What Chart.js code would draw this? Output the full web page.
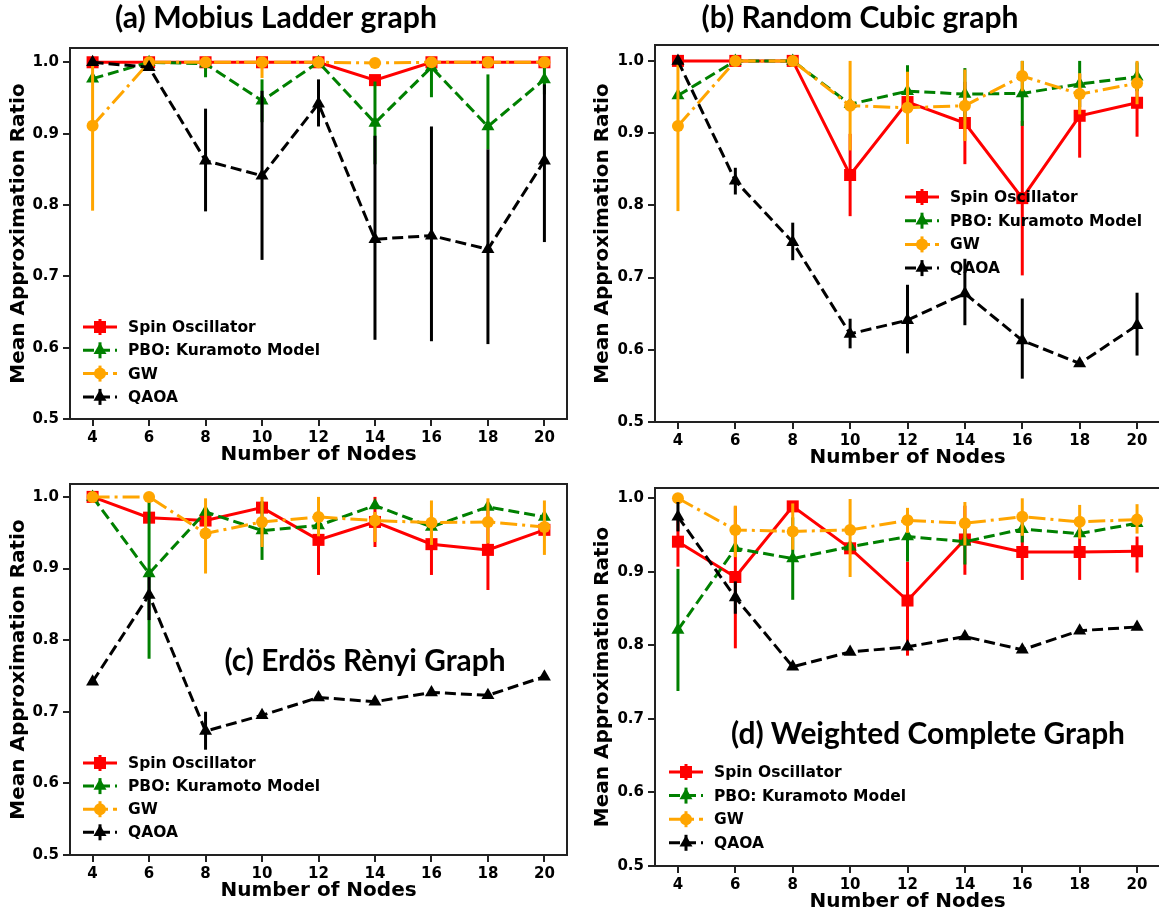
<!DOCTYPE html>
<html>
<head>
<meta charset="utf-8">
<script src="https://cdn.jsdelivr.net/npm/chart.js@4.4.1/dist/chart.umd.min.js"></script>
<style>
html,body{margin:0;padding:0;background:#fff;width:1159px;height:916px;overflow:hidden;position:relative}
canvas{position:absolute}
</style>
</head>
<body>
<script>
const nodes = [4, 6, 8, 10, 12, 14, 16, 18, 20];
const yTicks = [0.5, 0.6, 0.7, 0.8, 0.9, 1.0];
const seriesNames = ["Spin Oscillator", "PBO: Kuramoto Model", "GW", "QAOA"];

// (a) Mobius ladder
const mlSpin = [1, 1, 1, 1, 1, 0.975, 1, 1, 1];
const mlPbo  = [0.977, 1, 0.998, 0.946, 1, 0.915, 0.993, 0.91, 0.976];
const mlGw   = [0.911, 1, 1, 1, 1, 0.999, 1, 1, 1];
const mlQaoa = [1, 0.993, 0.862, 0.841, 0.942, 0.752, 0.757, 0.738, 0.862];
const mlSpinErr = [null, null, null, null, null, null, null, null, null];
const mlPboErr  = [null, null, [0.979, 1], [0.916, 0.976], null, [0.857, 0.973], [0.951, 1], [0.878, 0.983], [0.955, 0.997]];
const mlGwErr   = [[0.792, 1], null, null, [0.978, 1], null, null, null, null, null];
const mlQaoaErr = [null, null, [0.791, 0.935], [0.723, 0.96], [0.91, 0.976], [0.611, 0.897], [0.609, 0.91], [0.605, 0.878], [0.748, 0.969]];

// (b) random cubic
const rcSpin = [1, 1, 1, 0.842, 0.943, 0.914, 0.81, 0.924, 0.942];
const rcPbo  = [0.952, 1, 1, 0.94, 0.958, 0.954, 0.955, 0.968, 0.978];
const rcGw   = [0.91, 1, 1, 0.938, 0.935, 0.938, 0.979, 0.954, 0.969];
const rcQaoa = [1, 0.834, 0.749, 0.622, 0.641, 0.678, 0.613, 0.581, 0.634];
const rcSpinErr = [null, null, null, [0.785, 0.899], [0.92, 0.966], [0.857, 0.971], [0.703, 0.917], [0.866, 0.982], [0.895, 0.965]];
const rcPboErr  = [null, null, null, null, [0.922, 0.994], [0.918, 0.99], [0.91, 1], [0.936, 1], [0.958, 0.998]];
const rcGwErr   = [[0.792, 1], null, null, [0.876, 1], [0.885, 0.985], [0.889, 0.988], [0.958, 1], [0.926, 0.983], [0.94, 1]];
const rcQaoaErr = [null, [0.815, 0.852], [0.724, 0.776], [0.602, 0.643], [0.595, 0.69], [0.634, 0.726], [0.56, 0.671], [0.577, 0.585], [0.592, 0.679]];

// (c) Erdos Renyi
const erSpin = [1, 0.971, 0.967, 0.985, 0.94, 0.965, 0.934, 0.926, 0.954];
const erPbo  = [1, 0.893, 0.979, 0.953, 0.96, 0.988, 0.958, 0.986, 0.972];
const erGw   = [1, 1, 0.949, 0.965, 0.972, 0.967, 0.964, 0.965, 0.958];
const erQaoa = [0.742, 0.863, 0.673, 0.695, 0.72, 0.714, 0.727, 0.723, 0.749];
const erSpinErr = [null, null, null, null, [0.891, 0.99], [0.93, 1], [0.891, 0.977], [0.87, 0.982], null];
const erPboErr  = [null, [0.774, 1], null, [0.912, 0.994], null, null, null, null, null];
const erGwErr   = [null, null, [0.893, 0.998], [0.93, 1], [0.945, 1], [0.937, 0.979], [0.933, 0.995], [0.935, 0.998], [0.919, 0.995]];
const erQaoaErr = [null, [0.828, 0.888], [0.647, 0.7], null, null, null, null, null, null];

// (d) weighted complete
const wcSpin = [0.941, 0.893, 0.989, 0.932, 0.861, 0.944, 0.927, 0.927, 0.928];
const wcPbo  = [0.821, 0.932, 0.918, 0.934, 0.948, 0.941, 0.958, 0.952, 0.966];
const wcGw   = [1, 0.957, 0.955, 0.957, 0.97, 0.966, 0.975, 0.968, 0.971];
const wcQaoa = [0.975, 0.865, 0.771, 0.791, 0.798, 0.812, 0.794, 0.82, 0.825];
const wcSpinErr = [[0.907, 0.975], [0.796, 0.989], null, null, [0.786, 0.914], [0.896, 0.99], [0.889, 0.96], [0.889, 0.96], [0.899, 0.948]];
const wcPboErr  = [[0.738, 0.904], null, [0.862, 0.974], null, [0.914, 0.982], [0.91, 0.972], [0.94, 0.976], null, null];
const wcGwErr   = [null, [0.92, 0.99], [0.93, 0.993], [0.893, 0.999], [0.953, 0.987], [0.936, 0.995], [0.949, 1], [0.945, 0.991], [0.952, 0.992]];
const wcQaoaErr = [[0.955, 0.995], [0.843, 0.887], null, null, null, null, null, null, null];

const styles = [
  {color: "#ff0000", dash: [], point: "rect", r: 8.5, order: 4},
  {color: "#008000", dash: [11, 5], point: "triangle", r: 7.5, order: 3},
  {color: "#ffa500", dash: [17, 5, 3, 5], point: "circle", r: 6, order: 2},
  {color: "#000000", dash: [11, 5], point: "triangle", r: 7.5, order: 1}
];

Chart.defaults.font.family = "'DejaVu Sans'";
Chart.defaults.font.weight = "bold";
Chart.defaults.color = "#000";

function marker(ctx, style, x, y, r, color) {
  ctx.save();
  ctx.fillStyle = color;
  ctx.setLineDash([]);
  ctx.beginPath();
  if (style === "rect") {
    const s = r * Math.SQRT1_2;
    ctx.rect(x - s, y - s, 2 * s, 2 * s);
  } else if (style === "triangle") {
    ctx.moveTo(x, y - r);
    ctx.lineTo(x + r * 0.866, y + r * 0.5);
    ctx.lineTo(x - r * 0.866, y + r * 0.5);
    ctx.closePath();
  } else {
    ctx.arc(x, y, r, 0, Math.PI * 2);
  }
  ctx.fill();
  ctx.restore();
}

const errorBars = {
  id: "errorBars",
  beforeDatasetDraw(chart, args) {
    const ds = chart.data.datasets[args.index];
    if (!ds.errs) return;
    const ctx = chart.ctx, y = chart.scales.y, x = chart.scales.x, a = chart.chartArea;
    ctx.save();
    ctx.beginPath();
    ctx.rect(a.left, a.top, a.right - a.left, a.bottom - a.top);
    ctx.clip();
    ctx.strokeStyle = ds.borderColor;
    ctx.lineWidth = 3;
    ds.errs.forEach((e, i) => {
      if (!e) return;
      const px = x.getPixelForValue(nodes[i]);
      ctx.beginPath();
      ctx.moveTo(px, y.getPixelForValue(e[0]));
      ctx.lineTo(px, y.getPixelForValue(e[1]));
      ctx.stroke();
    });
    ctx.restore();
  }
};

const decor = {
  id: "decor",
  afterDatasetsDraw(chart) {
    const ctx = chart.ctx, a = chart.chartArea;
    ctx.save();
    ctx.strokeStyle = "#222";
    ctx.lineWidth = 2;
    ctx.strokeRect(a.left, a.top, a.right - a.left, a.bottom - a.top);
    ctx.restore();
  },
  afterDraw(chart, args, o) {
    const ctx = chart.ctx;
    ctx.save();
    // panel title, font size fitted to the measured width
    ctx.font = "bold 100px Lato";
    const size = 100 * o.title.width / ctx.measureText(o.title.text).width;
    ctx.font = "bold " + size + "px Lato";
    ctx.fillStyle = "#000";
    ctx.textAlign = "center";
    ctx.textBaseline = "alphabetic";
    ctx.fillText(o.title.text, o.title.cx, o.title.base);

    // matplotlib-like legend
    ctx.textAlign = "left";
    ctx.textBaseline = "middle";
    ctx.font = "bold 15.5px 'DejaVu Sans'";
    seriesNames.forEach((name, i) => {
      const st = styles[i];
      const yy = o.legend.y + i * o.legend.step;
      const x0 = o.legend.x, x1 = x0 + 34, xm = (x0 + x1) / 2;
      ctx.strokeStyle = st.color;
      ctx.lineWidth = 3;
      ctx.setLineDash(st.dash);
      ctx.beginPath(); ctx.moveTo(x0, yy); ctx.lineTo(x1, yy); ctx.stroke();
      ctx.setLineDash([]);
      ctx.beginPath(); ctx.moveTo(xm, yy - 8); ctx.lineTo(xm, yy + 8); ctx.stroke();
      marker(ctx, st.point, xm, yy, st.r, st.color);
      ctx.fillStyle = "#000";
      ctx.fillText(name, o.legend.tx, yy + 1);
    });
    ctx.restore();
  }
};

function makePanel(p) {
  const cv = document.createElement("canvas");
  cv.width = p.w; cv.height = p.h;
  cv.style.left = p.left + "px"; cv.style.top = p.top + "px";
  cv.style.width = p.w + "px"; cv.style.height = p.h + "px";
  document.body.appendChild(cv);
  const datasets = p.series.map((vals, i) => ({
    label: seriesNames[i],
    data: nodes.map((n, k) => ({x: n, y: vals[k]})),
    errs: p.errs[i],
    borderColor: styles[i].color,
    backgroundColor: styles[i].color,
    borderWidth: 3,
    borderDash: styles[i].dash,
    pointStyle: styles[i].point,
    pointRadius: styles[i].r,
    pointBorderWidth: 0,
    pointBackgroundColor: styles[i].color,
    order: styles[i].order,
    tension: 0,
    fill: false
  }));
  new Chart(cv, {
    type: "line",
    data: {datasets},
    plugins: [errorBars, decor],
    options: {
      responsive: false,
      animation: false,
      devicePixelRatio: 1,
      layout: {padding: {left: 0, top: p.area.top, right: p.w - p.area.right, bottom: 0}},
      plugins: {
        legend: {display: false},
        tooltip: {enabled: false},
        decor: {title: p.title, legend: p.legend}
      },
      scales: {
        x: {
          type: "linear",
          min: 3.2, max: 20.8,
          afterFit: s => { s.height = p.h - p.area.bottom; },
          afterBuildTicks: s => { s.ticks = nodes.map(v => ({value: v})); },
          ticks: {autoSkip: false, maxRotation: 0, padding: 3, font: {size: 15, weight: "bold"}, color: "#000", callback: v => String(v)},
          grid: {drawOnChartArea: false, drawTicks: true, tickLength: 7, tickWidth: 2, tickColor: "#222", lineWidth: 2},
          border: {display: true, color: "#222", width: 2},
          title: {display: true, text: "Number of Nodes", font: {size: 20, weight: "bold"}, color: "#000", padding: {top: 0, bottom: 3}}
        },
        y: {
          min: 0.5, max: p.yMax,
          afterFit: s => { s.width = p.area.left; },
          afterBuildTicks: s => { s.ticks = yTicks.map(v => ({value: v})); },
          ticks: {padding: 4, font: {size: 15, weight: "bold"}, color: "#000", callback: v => v.toFixed(1)},
          grid: {drawOnChartArea: false, drawTicks: true, tickLength: 7, tickWidth: 2, tickColor: "#222", lineWidth: 2},
          border: {display: true, color: "#222", width: 2},
          title: {display: true, text: "Mean Approximation Ratio", font: {size: 20, weight: "bold"}, color: "#000", padding: {top: p.yTitlePad, bottom: 0}}
        }
      }
    }
  });
}

makePanel({
  left: 0, top: 0, w: 580, h: 470,
  area: {left: 70, top: 48, right: 567, bottom: 419}, yMax: 1.02, yTitlePad: 6.5,
  series: [mlSpin, mlPbo, mlGw, mlQaoa],
  errs: [mlSpinErr, mlPboErr, mlGwErr, mlQaoaErr],
  title: {text: "(a) Mobius Ladder graph", cx: 276, base: 28, width: 322},
  legend: {x: 83, tx: 128, y: 327, step: 23.3}
});
makePanel({
  left: 580, top: 0, w: 590, h: 473,
  area: {left: 75, top: 45, right: 580, bottom: 422}, yMax: 1.022, yTitlePad: 11,
  series: [rcSpin, rcPbo, rcGw, rcQaoa],
  errs: [rcSpinErr, rcPboErr, rcGwErr, rcQaoaErr],
  title: {text: "(b) Random Cubic graph", cx: 280, base: 28, width: 317},
  legend: {x: 325, tx: 370, y: 197, step: 23.7}
});
makePanel({
  left: 0, top: 460, w: 580, h: 446,
  area: {left: 70, top: 24, right: 567, bottom: 395}, yMax: 1.018, yTitlePad: 6.5,
  series: [erSpin, erPbo, erGw, erQaoa],
  errs: [erSpinErr, erPboErr, erGwErr, erQaoaErr],
  title: {text: "(c) Erdös Rènyi Graph", cx: 365, base: 210.7, width: 281},
  legend: {x: 83, tx: 128, y: 303, step: 23.1}
});
makePanel({
  left: 580, top: 460, w: 590, h: 457,
  area: {left: 75, top: 28, right: 580, bottom: 406}, yMax: 1.014, yTitlePad: 11,
  series: [wcSpin, wcPbo, wcGw, wcQaoa],
  errs: [wcSpinErr, wcPboErr, wcGwErr, wcQaoaErr],
  title: {text: "(d) Weighted Complete Graph", cx: 348, base: 284.3, width: 394},
  legend: {x: 89, tx: 134, y: 312, step: 23.6}
});
</script>
</body>
</html>
